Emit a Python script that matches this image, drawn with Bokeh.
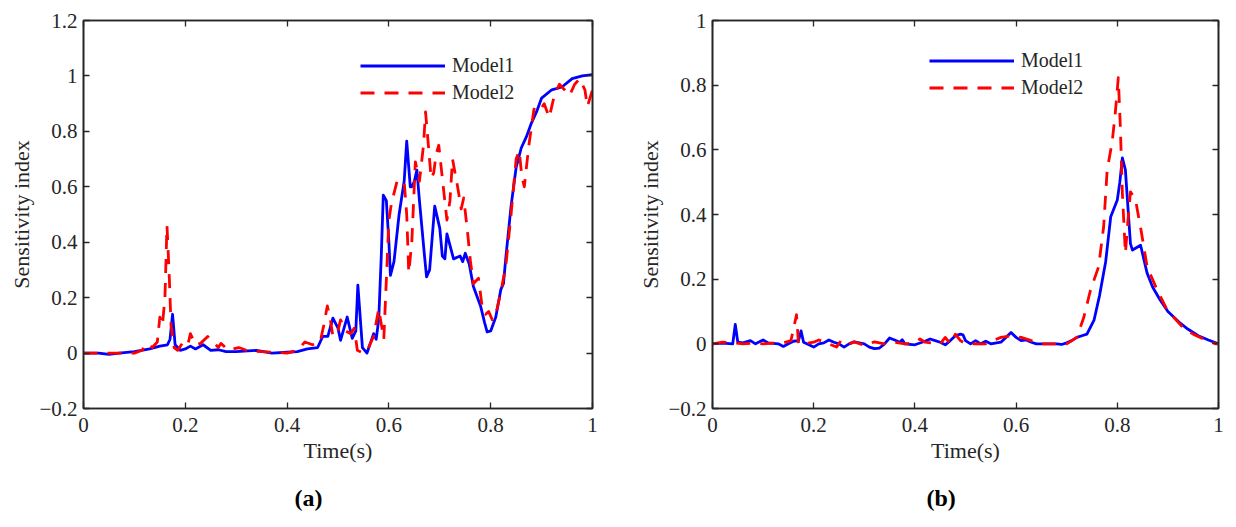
from bokeh.plotting import figure
from bokeh.models import (Legend, LegendItem, LinearAxis, FixedTicker, Range1d,
                          Title, CustomLabelingPolicy)
from bokeh.layouts import row
from bokeh.embed import file_html
from bokeh.resources import INLINE

# ---------------- data ----------------
x_ticks = [0, 0.2, 0.4, 0.6, 0.8, 1.0]
x_tick_labels = ["0", "0.2", "0.4", "0.6", "0.8", "1"]
ya_ticks = [-0.2, 0, 0.2, 0.4, 0.6, 0.8, 1.0, 1.2]
ya_tick_labels = ["\u22120.2", "0", "0.2", "0.4", "0.6", "0.8", "1", "1.2"]
yb_ticks = [-0.2, 0, 0.2, 0.4, 0.6, 0.8, 1.0]
yb_tick_labels = ["\u22120.2", "0", "0.2", "0.4", "0.6", "0.8", "1"]
series_names = ["Model1", "Model2"]
panel_tags = ["(a)", "(b)"]

# panel (a) Model1
t_a1 = [0.00, 0.03, 0.05, 0.07, 0.10, 0.13, 0.15, 0.165, 0.17, 0.175,
        0.18, 0.19, 0.20, 0.21, 0.22, 0.235, 0.25, 0.265, 0.28, 0.30,
        0.34, 0.37, 0.40, 0.42, 0.44, 0.46, 0.47, 0.48, 0.49, 0.50,
        0.505, 0.518, 0.528, 0.535, 0.539, 0.548, 0.557, 0.57, 0.575, 0.58,
        0.585, 0.589, 0.595, 0.60, 0.603, 0.61, 0.62, 0.63, 0.635, 0.642,
        0.645, 0.65, 0.655, 0.66, 0.67, 0.674, 0.68, 0.69, 0.70, 0.705,
        0.71, 0.714, 0.727, 0.74, 0.745, 0.75, 0.758, 0.766, 0.78, 0.788,
        0.793, 0.80, 0.81, 0.82, 0.825, 0.83, 0.84, 0.85, 0.86, 0.87,
        0.88, 0.89, 0.90, 0.92, 0.94, 0.96, 0.98, 1.00]
v_a1 = [0.000, 0.000, -0.005, 0.000, 0.005, 0.015, 0.025, 0.030, 0.050, 0.140,
        0.030, 0.010, 0.015, 0.025, 0.015, 0.030, 0.010, 0.012, 0.005, 0.005,
        0.010, 0.000, 0.003, 0.005, 0.015, 0.020, 0.060, 0.060, 0.126, 0.090,
        0.046, 0.130, 0.053, 0.080, 0.245, 0.020, 0.000, 0.070, 0.050, 0.120,
        0.350, 0.570, 0.550, 0.400, 0.280, 0.330, 0.500, 0.620, 0.765, 0.600,
        0.600, 0.620, 0.660, 0.550, 0.350, 0.275, 0.300, 0.530, 0.450, 0.350,
        0.340, 0.430, 0.340, 0.350, 0.330, 0.360, 0.320, 0.240, 0.170, 0.110,
        0.076, 0.080, 0.130, 0.230, 0.250, 0.350, 0.530, 0.670, 0.740, 0.780,
        0.830, 0.870, 0.920, 0.950, 0.960, 0.990, 1.000, 1.005]

# panel (a) Model2
t_a2 = [0.00, 0.05, 0.10, 0.115, 0.125, 0.135, 0.145, 0.15, 0.155, 0.16,
        0.164, 0.168, 0.172, 0.178, 0.185, 0.196, 0.205, 0.21, 0.22, 0.23,
        0.244, 0.255, 0.265, 0.27, 0.285, 0.305, 0.32, 0.35, 0.40, 0.42,
        0.435, 0.45, 0.465, 0.472, 0.479, 0.485, 0.49, 0.50, 0.505, 0.515,
        0.525, 0.532, 0.538, 0.55, 0.56, 0.57, 0.58, 0.59, 0.60, 0.605,
        0.616, 0.63, 0.635, 0.639, 0.645, 0.652, 0.66, 0.668, 0.672, 0.678,
        0.683, 0.688, 0.693, 0.698, 0.708, 0.714, 0.72, 0.725, 0.735, 0.742,
        0.747, 0.754, 0.76, 0.766, 0.776, 0.783, 0.79, 0.796, 0.803, 0.81,
        0.82, 0.83, 0.84, 0.85, 0.856, 0.861, 0.866, 0.875, 0.885, 0.895,
        0.905, 0.915, 0.925, 0.935, 0.945, 0.955, 0.965, 0.975, 0.985, 0.99,
        0.995, 1.00]
v_a2 = [0.00, 0.00, 0.00, 0.01, 0.035, 0.02, 0.04, 0.13, 0.10, 0.20,
        0.46, 0.30, 0.10, 0.02, 0.01, 0.04, 0.03, 0.07, 0.03, 0.035,
        0.06, 0.04, 0.02, 0.035, 0.01, 0.02, 0.01, 0.005, 0.00, 0.01,
        0.04, 0.03, 0.04, 0.10, 0.17, 0.12, 0.06, 0.08, 0.12, 0.08,
        0.07, 0.09, 0.01, 0.00, 0.02, 0.06, 0.16, 0.05, 0.48, 0.54,
        0.62, 0.62, 0.50, 0.29, 0.40, 0.69, 0.62, 0.75, 0.87, 0.74,
        0.63, 0.65, 0.72, 0.75, 0.58, 0.48, 0.55, 0.70, 0.60, 0.52,
        0.56, 0.445, 0.335, 0.25, 0.27, 0.17, 0.14, 0.15, 0.12, 0.14,
        0.22, 0.32, 0.50, 0.70, 0.73, 0.64, 0.60, 0.75, 0.88, 0.87,
        0.90, 0.85, 0.93, 0.97, 0.95, 0.93, 0.97, 0.99, 0.95, 0.89,
        0.92, 0.95]

# panel (b) Model1
t_b1 = [0.00, 0.02, 0.04, 0.045, 0.05, 0.06, 0.075, 0.085, 0.10, 0.11,
        0.13, 0.14, 0.15, 0.16, 0.17, 0.175, 0.18, 0.20, 0.21, 0.22,
        0.23, 0.24, 0.25, 0.26, 0.27, 0.28, 0.29, 0.30, 0.31, 0.32,
        0.33, 0.34, 0.35, 0.36, 0.37, 0.375, 0.38, 0.40, 0.42, 0.43,
        0.44, 0.45, 0.46, 0.47, 0.48, 0.49, 0.495, 0.50, 0.51, 0.52,
        0.53, 0.54, 0.55, 0.57, 0.58, 0.59, 0.60, 0.61, 0.62, 0.63,
        0.64, 0.66, 0.68, 0.69, 0.70, 0.71, 0.72, 0.73, 0.74, 0.754,
        0.765, 0.777, 0.787, 0.80, 0.805, 0.81, 0.816, 0.822, 0.826, 0.83,
        0.846, 0.859, 0.87, 0.885, 0.90, 0.925, 0.94, 0.96, 0.98, 1.00]
v_b1 = [0.000, 0.002, 0.000, 0.060, 0.005, 0.003, 0.010, 0.000, 0.012, 0.003,
        0.000, -0.008, 0.000, 0.008, 0.010, 0.040, 0.005, -0.010, 0.000, 0.003,
        0.012, 0.005, 0.000, -0.010, 0.000, 0.006, 0.003, 0.000, -0.010, -0.015,
        -0.013, 0.000, 0.018, 0.012, 0.005, 0.013, 0.000, -0.003, 0.008, 0.015,
        0.010, 0.005, -0.003, 0.010, 0.025, 0.030, 0.028, 0.010, 0.000, 0.010,
        0.000, 0.008, 0.000, 0.005, 0.020, 0.035, 0.020, 0.010, 0.012, 0.005,
        0.000, 0.000, 0.000, -0.002, 0.003, 0.010, 0.020, 0.025, 0.030, 0.073,
        0.150, 0.254, 0.393, 0.445, 0.500, 0.575, 0.538, 0.400, 0.310, 0.290,
        0.305, 0.218, 0.175, 0.135, 0.100, 0.063, 0.045, 0.025, 0.012, 0.000]

# panel (b) Model2
t_b2 = [0.00, 0.02, 0.04, 0.06, 0.08, 0.10, 0.12, 0.14, 0.155, 0.162,
        0.166, 0.170, 0.18, 0.20, 0.21, 0.23, 0.245, 0.255, 0.27, 0.28,
        0.30, 0.32, 0.34, 0.36, 0.38, 0.40, 0.41, 0.42, 0.45, 0.46,
        0.47, 0.48, 0.49, 0.50, 0.52, 0.54, 0.57, 0.59, 0.61, 0.63,
        0.65, 0.70, 0.72, 0.734, 0.747, 0.763, 0.773, 0.78, 0.79, 0.796,
        0.802, 0.806, 0.81, 0.816, 0.821, 0.826, 0.836, 0.846, 0.859, 0.879,
        0.90, 0.911, 0.93, 0.95, 0.97, 0.995, 1.00]
v_b2 = [0.000, 0.005, 0.003, 0.000, 0.002, 0.000, 0.002, 0.003, 0.010, 0.060,
        0.090, 0.000, 0.000, 0.005, 0.012, 0.000, -0.010, 0.012, 0.000, 0.006,
        -0.005, 0.006, 0.000, 0.005, 0.000, 0.003, 0.015, 0.005, 0.000, 0.020,
        0.000, 0.030, 0.010, 0.000, 0.000, 0.000, 0.020, 0.025, 0.020, 0.010,
        0.000, 0.000, 0.020, 0.083, 0.166, 0.238, 0.362, 0.538, 0.626, 0.714,
        0.823, 0.672, 0.466, 0.280, 0.380, 0.470, 0.445, 0.360, 0.238, 0.166,
        0.100, 0.083, 0.050, 0.030, 0.015, 0.000, 0.000]

# ---------------- style ----------------
FONT = "Liberation Serif"
TXT = "#262626"
BLUE = "#0000FF"
RED = "#FF0000"

HIDE_LABELS = "for (const i of indices) { indices.unset(i) }\nreturn indices"


def make_panel(t1, v1, t2, v2, y_rng, y_ticks, y_labels, tag, tag_offset,
               width, mbl, mbr, leg_loc):
    p = figure(width=width, height=527, x_range=Range1d(0, 1),
               y_range=Range1d(*y_rng), output_backend="svg",
               toolbar_location=None, min_border_left=mbl,
               min_border_right=mbr, min_border_top=20, min_border_bottom=119,
               background_fill_color="white", border_fill_color="white")
    p.xgrid.visible = False
    p.ygrid.visible = False
    p.outline_line_color = TXT
    p.outline_line_width = 1.6
    p.outline_line_alpha = 1.0

    xo = dict(zip(x_ticks, x_tick_labels))
    yo = dict(zip(y_ticks, y_labels))

    def style(ax, ticks, overrides, show):
        ax.ticker = FixedTicker(ticks=ticks)
        ax.major_tick_in = 6
        ax.major_tick_out = 0
        ax.minor_tick_line_color = None
        ax.major_tick_line_color = TXT
        ax.major_tick_line_width = 1.3
        ax.axis_line_color = TXT
        ax.axis_line_width = 1.6
        ax.major_label_text_font = FONT
        ax.major_label_text_color = TXT
        if show:
            ax.major_label_overrides = overrides
            ax.major_label_text_font_size = "21px"
        else:
            ax.major_label_policy = CustomLabelingPolicy(code=HIDE_LABELS)
            ax.major_label_text_font_size = "1px"
            ax.major_label_standoff = 0

    style(p.xaxis[0], x_ticks, xo, True)
    style(p.yaxis[0], y_ticks, yo, True)
    p.xaxis[0].major_label_standoff = 9
    p.yaxis[0].major_label_standoff = 6
    p.xaxis[0].axis_label = "Time(s)"
    p.yaxis[0].axis_label = "Sensitivity index"
    for ax in (p.xaxis[0], p.yaxis[0]):
        ax.axis_label_text_font = FONT
        ax.axis_label_text_font_size = "22px"
        ax.axis_label_text_font_style = "normal"
        ax.axis_label_text_color = TXT
    p.xaxis[0].axis_label_standoff = 3
    p.yaxis[0].axis_label_standoff = 2

    top = LinearAxis()
    style(top, x_ticks, xo, False)
    p.add_layout(top, "above")
    right = LinearAxis()
    style(right, y_ticks, yo, False)
    p.add_layout(right, "right")

    r1 = p.line(t1, v1, line_color=BLUE, line_width=2.8, line_join="round")
    r2 = p.line(t2, v2, line_color=RED, line_width=2.8, line_dash="14 10",
                line_join="round")

    leg = Legend(items=[LegendItem(label=series_names[0], renderers=[r1]),
                        LegendItem(label=series_names[1], renderers=[r2])],
                 location=leg_loc, border_line_color=None,
                 background_fill_alpha=0.0, padding=0, margin=0, spacing=0,
                 glyph_width=85, glyph_height=27, label_height=27,
                 label_standoff=7, label_text_font=FONT,
                 label_text_font_size="20px", label_text_color=TXT)
    p.add_layout(leg)

    p.add_layout(Title(text=tag, align="left", offset=tag_offset,
                       text_font=FONT, text_font_size="24px",
                       text_font_style="bold", text_color="black",
                       standoff=34), "below")
    return p


pa = make_panel(t_a1, v_a1, t_a2, v_a2, (-0.2, 1.2), ya_ticks, ya_tick_labels,
                panel_tags[0], 211, 628, 83, 36, (277, 302))
pb = make_panel(t_b1, v_b1, t_b2, v_b2, (-0.2, 1.0), yb_ticks, yb_tick_labels,
                panel_tags[1], 214, 600, 84, 10, (217, 307))

layout = row(pa, pb)
open("out.html", "w").write(file_html(layout, INLINE))
